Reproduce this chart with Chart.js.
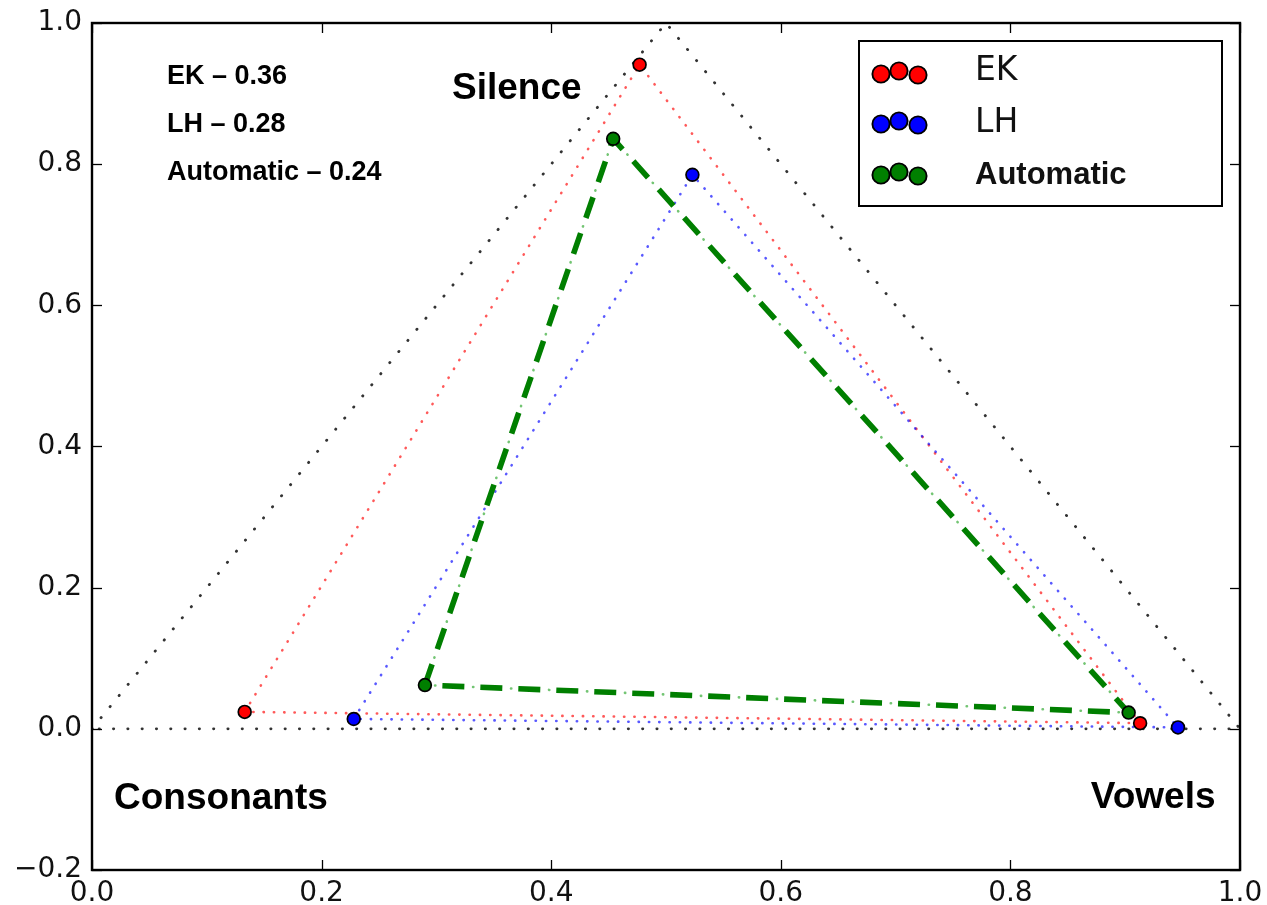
<!DOCTYPE html>
<html>
<head>
<meta charset="utf-8">
<script src="https://cdn.jsdelivr.net/npm/chart.js@4/dist/chart.umd.min.js"></script>
<style>
  html, body { margin: 0; padding: 0; background: #fff; }
  #wrap { width: 1267px; height: 905px; position: relative; }
</style>
</head>
<body>
<div id="wrap"><canvas id="c" width="1267" height="905"></canvas></div>
<script>
// ---- data (vertex order: Consonants, Silence, Vowels) ----
const vertexNames = ['Consonants', 'Silence', 'Vowels'];
const seriesNames = ['EK', 'LH', 'Automatic'];
const seriesScores = [0.36, 0.28, 0.24];
const boundX = [0.0, 0.5, 1.0];
const boundY = [0.0, 1.0, 0.0];
const ekX = [0.133, 0.477, 0.913];
const ekY = [0.024, 0.941, 0.008];
const lhX = [0.228, 0.523, 0.946];
const lhY = [0.014, 0.785, 0.002];
const autoX = [0.290, 0.454, 0.903];
const autoY = [0.062, 0.836, 0.023];
const xTickValues = [0.0, 0.2, 0.4, 0.6, 0.8, 1.0];
const yTickValues = [-0.2, 0.0, 0.2, 0.4, 0.6, 0.8, 1.0];

const pts = (xs, ys) => xs.map((x, i) => ({ x: x, y: ys[i] }));
const closed = (xs, ys) => pts(xs, ys).concat([{ x: xs[0], y: ys[0] }]);
const fmt = v => {
  if (Math.abs(v) < 1e-9) return '0.0';
  const s = Math.abs(v).toFixed(1);
  return v < 0 ? '\u2212' + s : s;
};

const markerColors = { EK: '#ff0000', LH: '#0000ff', Automatic: '#007f00' };

const lineBase = { showLine: true, pointRadius: 0, pointHoverRadius: 0, fill: false, tension: 0 };
const pointBase = { showLine: false, pointRadius: 6.4, pointHoverRadius: 6.4, pointBorderColor: '#000', pointBorderWidth: 1.7 };

const datasets = [
  Object.assign({}, lineBase, { label: 'bound', data: closed(boundX, boundY), borderColor: 'rgba(0,0,0,0.8)', borderWidth: 2.8, borderDash: [0.3, 14], borderCapStyle: 'round', order: 10 }),
  Object.assign({}, lineBase, { label: 'EK line', data: closed(ekX, ekY), borderColor: 'rgba(255,0,0,0.65)', borderWidth: 2.6, borderDash: [0.3, 10], borderCapStyle: 'round', order: 9 }),
  Object.assign({}, lineBase, { label: 'LH line', data: closed(lhX, lhY), borderColor: 'rgba(0,0,255,0.65)', borderWidth: 2.6, borderDash: [0.3, 10], borderCapStyle: 'round', order: 8 }),
  Object.assign({}, lineBase, { label: 'Automatic line', data: closed(autoX, autoY), borderColor: '#007f00', borderWidth: 5.6, borderDash: [22, 16], borderCapStyle: 'butt', order: 7 }),
  Object.assign({}, lineBase, { label: 'Automatic dots', data: closed(autoX, autoY), borderColor: 'rgba(0,150,0,0.55)', borderWidth: 2.6, borderDash: [0.3, 37.7], borderDashOffset: 9, borderCapStyle: 'round', order: 6 }),
  Object.assign({}, pointBase, { label: 'Automatic', data: pts(autoX, autoY), backgroundColor: markerColors.Automatic, pointBackgroundColor: markerColors.Automatic, order: 3 }),
  Object.assign({}, pointBase, { label: 'LH', data: pts(lhX, lhY), backgroundColor: markerColors.LH, pointBackgroundColor: markerColors.LH, order: 2 }),
  Object.assign({}, pointBase, { label: 'EK', data: pts(ekX, ekY), backgroundColor: markerColors.EK, pointBackgroundColor: markerColors.EK, order: 1 })
];

const decorPlugin = {
  id: 'decor',
  afterDatasetsDraw(chart) {
    const ctx = chart.ctx;
    const a = chart.chartArea;
    const xs = chart.scales.x, ys = chart.scales.y;
    ctx.save();
    // inner tick marks on all sides
    ctx.strokeStyle = '#000';
    ctx.lineWidth = 1.3;
    const tl = 10;
    xTickValues.forEach(v => {
      const px = Math.round(xs.getPixelForValue(v)) + 0.5;
      ctx.beginPath(); ctx.moveTo(px, a.bottom); ctx.lineTo(px, a.bottom - tl); ctx.stroke();
      ctx.beginPath(); ctx.moveTo(px, a.top); ctx.lineTo(px, a.top + tl); ctx.stroke();
    });
    yTickValues.forEach(v => {
      const py = Math.round(ys.getPixelForValue(v)) + 0.5;
      ctx.beginPath(); ctx.moveTo(a.left, py); ctx.lineTo(a.left + tl, py); ctx.stroke();
      ctx.beginPath(); ctx.moveTo(a.right, py); ctx.lineTo(a.right - tl, py); ctx.stroke();
    });
    // frame
    ctx.lineWidth = 2.4;
    ctx.strokeRect(a.left, a.top, a.right - a.left, a.bottom - a.top);

    // vertex labels
    ctx.fillStyle = '#000';
    ctx.textAlign = 'left';
    ctx.textBaseline = 'alphabetic';
    ctx.font = 'bold 37px "Liberation Sans", Arial, sans-serif';
    const vPos = [[0.0192, -0.1134], [0.3136, 0.892], [0.870, -0.112]];
    vertexNames.forEach((n, i) => {
      ctx.fillText(n, xs.getPixelForValue(vPos[i][0]), ys.getPixelForValue(vPos[i][1]));
    });
    // score annotations
    ctx.font = 'bold 27px "Liberation Sans", Arial, sans-serif';
    const annY = [0.9133, 0.8457, 0.7773];
    seriesNames.forEach((n, i) => {
      ctx.fillText(n + ' \u2013 ' + seriesScores[i].toFixed(2), xs.getPixelForValue(0.0653), ys.getPixelForValue(annY[i]));
    });

    // legend
    const bx = a.right - 18, by = a.top + 18;
    const lw = 363, lh = 165;
    const lx = bx - lw;
    ctx.fillStyle = '#fff';
    ctx.fillRect(lx, by, lw, lh);
    ctx.strokeStyle = '#000';
    ctx.lineWidth = 2;
    ctx.strokeRect(lx, by, lw, lh);
    const rowY = [33, 83, 134];
    const textY = [39, 91, 143];
    const mx = [22, 40, 59];
    const moff = [0, -3, 1];
    seriesNames.forEach((n, i) => {
      for (let k = 0; k < 3; k++) {
        ctx.beginPath();
        ctx.arc(lx + mx[k], by + rowY[i] + moff[k], 8.6, 0, Math.PI * 2);
        ctx.fillStyle = markerColors[n];
        ctx.fill();
        ctx.lineWidth = 1.9;
        ctx.strokeStyle = '#000';
        ctx.stroke();
      }
      ctx.fillStyle = '#111';
      ctx.font = (n === 'Automatic') ? 'bold 31px "Liberation Sans", Arial, sans-serif' : '33px "DejaVu Sans", sans-serif';
      ctx.fillText(n, lx + 116, by + textY[i]);
    });
    ctx.restore();
  }
};

const tickFont = { family: '"DejaVu Sans", sans-serif', size: 28 };

new Chart(document.getElementById('c'), {
  type: 'scatter',
  data: { datasets: datasets },
  options: {
    responsive: false,
    animation: false,
    events: [],
    layout: { padding: { top: 23, right: 27, left: 0, bottom: 0 } },
    plugins: { legend: { display: false }, tooltip: { enabled: false } },
    scales: {
      x: {
        type: 'linear', min: 0, max: 1,
        afterBuildTicks: s => { s.ticks = xTickValues.map(v => ({ value: v })); },
        ticks: { callback: v => fmt(v), font: tickFont, color: '#111', padding: 7, autoSkip: false, maxRotation: 0 },
        grid: { display: false, drawTicks: false },
        border: { display: false },
        afterFit: s => { s.height = 35; s.paddingLeft = 0; s.paddingRight = 0; }
      },
      y: {
        type: 'linear', min: -0.2, max: 1.0,
        afterBuildTicks: s => { s.ticks = yTickValues.map(v => ({ value: v })); },
        ticks: { callback: v => fmt(v), font: tickFont, color: '#111', padding: 10, autoSkip: false },
        grid: { display: false, drawTicks: false },
        border: { display: false },
        afterFit: s => { s.width = 92; s.paddingTop = 0; s.paddingBottom = 0; }
      }
    }
  },
  plugins: [decorPlugin]
});
</script>
</body>
</html>
